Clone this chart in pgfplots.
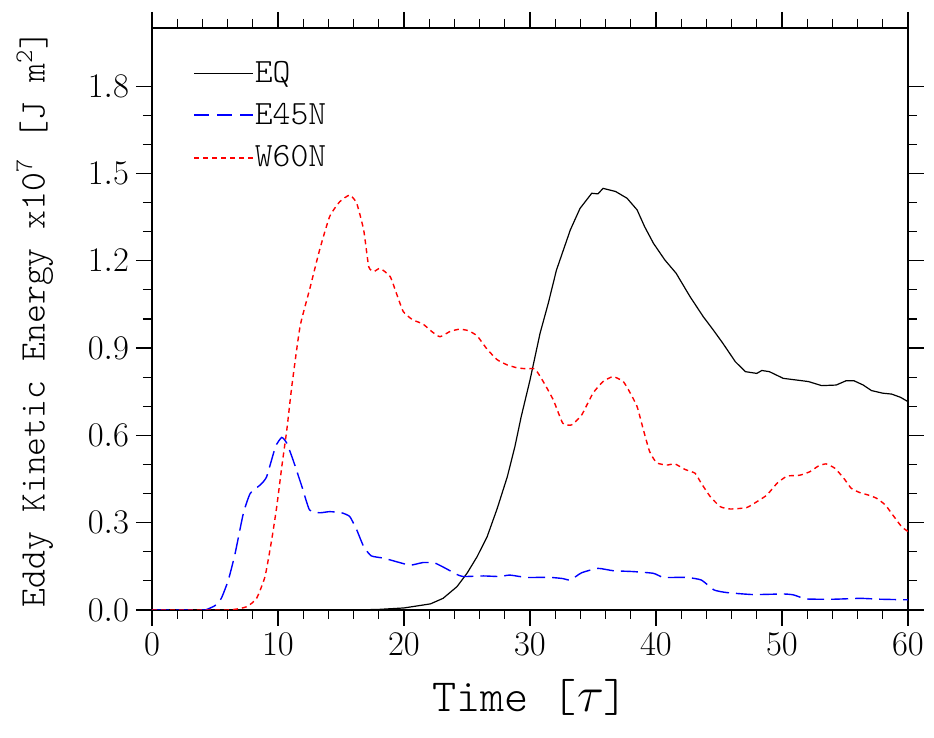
\documentclass[border=0pt]{standalone}
\usepackage{fontspec}
\setmonofont{lmmonolt10-regular.otf}
\usepackage{pgfplots}
\pgfplotsset{compat=1.18}
\begin{document}
\begin{tikzpicture}
\path[use as bounding box] (0,0) rectangle (467pt,369pt);
\begin{axis}[
  at={(76pt,64pt)}, anchor=south west,
  scale only axis, width=378pt, height=291pt,
  xmin=0, xmax=60, ymin=0, ymax=2,
  xtick={0,10,20,30,40,50,60}, minor x tick num=4,
  ytick={0,0.3,0.6,0.9,1.2,1.5,1.8}, minor y tick num=2,
  tick align=outside, major tick length=8pt, minor tick length=4.5pt,
  axis line style={line width=0.6pt},
  every tick/.style={black, line width=0.6pt},
  tick label style={font=\fontsize{18}{20}\selectfont},
  yticklabel style={/pgf/number format/.cd, fixed, fixed zerofill, precision=1},
  xlabel={\ttfamily Time [$\tau$]},
  xlabel style={font=\fontsize{23}{26}\selectfont, at={(axis description cs:0.5,-0.15)}, anchor=center},
  ylabel={\ttfamily Eddy Kinetic Energy x10\textsuperscript{7} [J m\textsuperscript{2}]},
  ylabel style={font=\fontsize{18}{20}\selectfont, at={(axis description cs:-0.155,0.5)}, anchor=center},
  legend style={draw=none, fill=none, at={(axis description cs:0.054,0.945)}, anchor=north west,
    font=\ttfamily\fontsize{17}{20}\selectfont, row sep=8pt, inner sep=0pt,
    nodes={inner sep=0.5pt}},
  legend cell align=left,
]
\addplot[black, line width=0.6pt,
  legend image code/.code={\draw[black, line width=0.6pt] (0pt,0pt) -- (29.5pt,0pt);}] coordinates {
(0,0) (16,0) (18,0.002) (20,0.007) (22.1,0.021) (23.1,0.04) (24.2,0.08) (25.0,0.126) (25.8,0.183) (26.6,0.252) (27.4,0.349) (28.2,0.458) (28.8,0.561) (29.3,0.664) (30.0,0.79) (30.8,0.951) (31.45,1.054) (32.1,1.168) (33.2,1.306) (33.97,1.38) (34.9,1.432) (35.4,1.43) (35.8,1.449) (36.8,1.438) (37.7,1.415) (38.5,1.375) (39.1,1.317) (39.8,1.26) (40.7,1.203) (41.6,1.157) (42.7,1.077) (43.75,1.008) (44.55,0.962) (45.3,0.917) (46.3,0.853) (47.1,0.819) (48.0,0.813) (48.4,0.823) (49.0,0.819) (50.1,0.796) (51.2,0.79) (52.1,0.785) (53.15,0.771) (54.3,0.773) (55.1,0.788) (55.7,0.788) (56.45,0.773) (57.1,0.754) (58.0,0.745) (58.7,0.742) (59.4,0.731) (60,0.716)
};
\addlegendentry{EQ}
\addplot[blue, line width=0.7pt, dash pattern=on 8.5pt off 3.5pt, smooth, tension=0.3,
  legend image code/.code={\draw[draw=blue, line width=0.8pt, dash pattern=on 7.5pt off 4pt] (0pt,0.3pt) -- (29.5pt,0.3pt);}] coordinates {
(0,0) (4,0) (4.3,0.001) (5,0.015) (5.5,0.04) (6.06,0.103) (6.6,0.195) (7.25,0.332) (7.8,0.401) (8.6,0.43) (9.1,0.458) (9.8,0.561) (10.3,0.593) (10.7,0.573) (11.2,0.515) (11.9,0.424) (12.5,0.344) (13.3,0.334) (14.1,0.338) (15.05,0.334) (15.7,0.321) (16.25,0.275) (16.8,0.218) (17.4,0.186) (18.4,0.178) (19.4,0.166) (20.5,0.154) (21.5,0.163) (22.4,0.162) (23.0,0.150) (23.65,0.135) (24.2,0.122) (24.7,0.115) (26.3,0.117) (27.6,0.115) (28.4,0.12) (29.7,0.112) (31.6,0.112) (32.6,0.108) (33.2,0.103) (34.1,0.128) (35.4,0.143) (36.6,0.135) (38.2,0.132) (39.8,0.126) (40.6,0.112) (42.4,0.112) (43.6,0.103) (44.6,0.069) (45.6,0.060) (47.7,0.053) (50.1,0.055) (50.9,0.052) (51.95,0.038) (54.1,0.037) (56.2,0.040) (57.8,0.037) (60,0.035)
};
\addlegendentry{E45N}
\addplot[red, line width=0.7pt, dash pattern=on 2.5pt off 2pt, smooth, tension=0.3,
  legend image code/.code={\draw[red, line width=0.7pt, dash pattern=on 2.5pt off 2pt] (0pt,0pt) -- (29.5pt,0pt);}] coordinates {
(0,0) (6,0) (7.5,0.011) (8.3,0.04) (8.97,0.115) (9.5,0.241) (9.9,0.355) (10.3,0.492) (10.7,0.619) (11.1,0.77) (11.75,0.974) (12.5,1.10) (13.3,1.237) (14.1,1.352) (14.9,1.403) (15.7,1.426) (16.25,1.397) (16.8,1.306) (17.2,1.18) (17.6,1.163) (18.1,1.174) (18.9,1.146) (19.4,1.088) (19.95,1.025) (20.7,0.997) (21.5,0.983) (22.2,0.957) (22.85,0.939) (23.65,0.957) (24.4,0.965) (25.1,0.96) (25.8,0.942) (26.6,0.896) (27.4,0.86) (28.2,0.842) (29.0,0.832) (29.7,0.829) (30.4,0.828) (31.05,0.785) (31.85,0.722) (32.6,0.642) (33.3,0.636) (34.1,0.67) (35.0,0.745) (35.8,0.785) (36.6,0.802) (37.4,0.785) (37.9,0.75) (38.5,0.699) (39.0,0.619) (39.5,0.544) (40.05,0.506) (40.85,0.498) (41.5,0.502) (42.3,0.483) (43.1,0.47) (43.6,0.435) (44.3,0.39) (45.1,0.355) (45.9,0.347) (47.2,0.352) (48.0,0.372) (48.8,0.395) (49.6,0.435) (50.4,0.46) (51.4,0.463) (52.2,0.475) (52.9,0.495) (53.5,0.502) (54.2,0.487) (54.9,0.453) (55.5,0.418) (56.2,0.403) (56.85,0.395) (57.5,0.384) (58.2,0.361) (58.8,0.326) (59.5,0.286) (60,0.27)
};
\addlegendentry{W60N}
\end{axis}
\end{tikzpicture}
\end{document}
